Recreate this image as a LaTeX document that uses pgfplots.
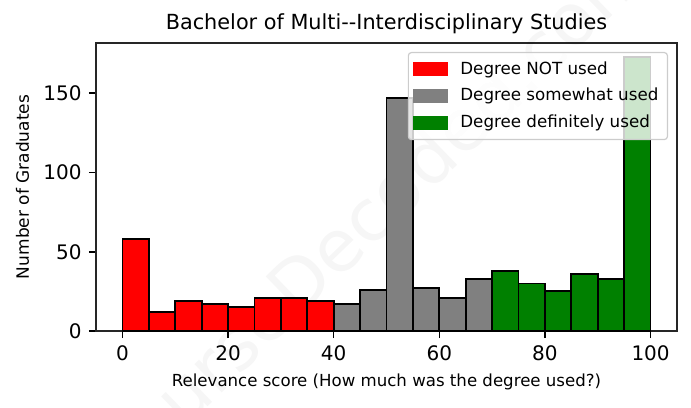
\documentclass[border=0pt]{standalone}
\usepackage{pgfplots}
\pgfplotsset{compat=1.18}
\usetikzlibrary{calc}
\usepackage{fontspec}
\setmainfont{DejaVu Sans}
\definecolor{mplgreen}{rgb}{0,0.5,0}
\definecolor{mplgray}{rgb}{0.5,0.5,0.5}
\pgfplotsset{every axis title shift=0pt}
\begin{document}
\begin{tikzpicture}
\begin{axis}[
  name=ax,
  scale only axis,
  width=290.5bp, height=144bp,
  xmin=-5, xmax=105, ymin=0, ymax=181.65,
  xtick={0,20,40,60,80,100},
  ytick={0,50,100,150},
  tick align=outside,
  xtick pos=bottom, ytick pos=left,
  major tick length=3.5bp,
  every tick/.style={black, line width=0.8bp},
  axis line style={line width=0.8bp, black!85},
  /pgf/number format/assume math mode=true,
  tick label style={font=\fontsize{10bp}{12bp}\selectfont, black},
  xticklabel style={inner sep=0pt, yshift=-3.5bp},
  yticklabel style={inner sep=0pt, xshift=-3.5bp},
  title={Bachelor of Multi-{}-Interdisciplinary Studies},
  title style={at={(axis description cs:0.5,1)}, anchor=base, yshift=6.5bp, inner sep=0pt, font=\fontsize{10.4bp}{12bp}\selectfont},
  xlabel={Relevance score (How much was the degree used?)},
  xlabel style={at={(axis description cs:0.5,0)}, anchor=north, yshift=-21bp, inner sep=0pt, font=\fontsize{8.3bp}{10bp}\selectfont},
  ylabel={Number of Graduates},
  ylabel style={at={(axis description cs:0,0.5)}, anchor=base, yshift=33.5bp, inner sep=0pt, font=\fontsize{8.5bp}{10bp}\selectfont},
  ybar, bar width=5, bar shift=0pt,
  legend style={at={(axis description cs:1,1)}, anchor=north east, xshift=-4.5bp, yshift=-4.5bp,
    draw=black!20, rounded corners=1.5bp, fill=white, fill opacity=0.8, text opacity=1,
    font=\fontsize{8.35bp}{10bp}\selectfont, inner sep=2.5bp, row sep=1.5bp, line width=0.6bp},
  legend cell align=left,
  legend image code/.code={\fill[#1, draw=none, fill opacity=1, sharp corners] (0bp,-3.5bp) rectangle (17.5bp,3.5bp); \path[draw=none] (21.5bp,0bp);},
  clip=false,
]
\node[overlay, rotate=44, text=black, opacity=0.035, font=\fontsize{36bp}{40bp}\selectfont] at (axis description cs:0.466,0.40) {CourseDecoded.com};
\addplot[fill=red, draw=black, line width=0.9bp] coordinates {
(2.5,58) (7.5,12) (12.5,19) (17.5,17) (22.5,15) (27.5,21) (32.5,21) (37.5,19)};
\addlegendentry{Degree NOT used}
\addplot[fill=mplgray, draw=black, line width=0.9bp] coordinates {
(42.5,17) (47.5,26) (52.5,147) (57.5,27) (62.5,21) (67.5,33)};
\addlegendentry{Degree somewhat used}
\addplot[fill=mplgreen, draw=black, line width=0.9bp] coordinates {
(72.5,38) (77.5,30) (82.5,25) (87.5,36) (92.5,33) (97.5,173)};
\addlegendentry{Degree definitely used}
\end{axis}
\path ($(ax.south west)+(-48bp,-38.5bp)$) rectangle ($(ax.north east)+(7bp,21.5bp)$);
\end{tikzpicture}
\end{document}
